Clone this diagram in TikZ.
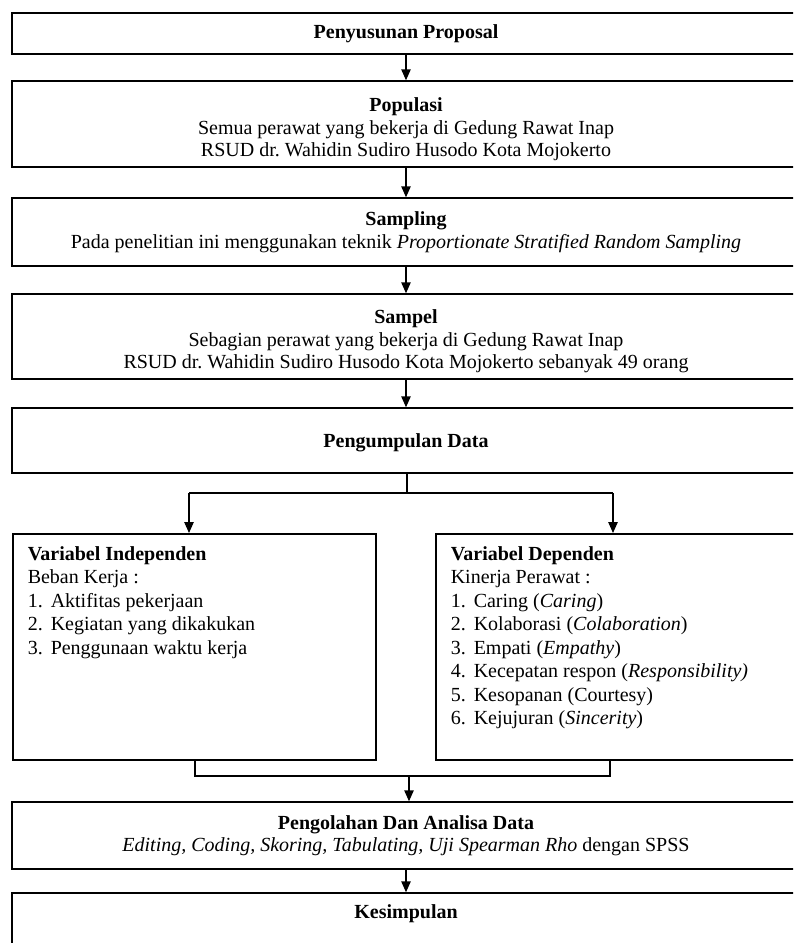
\documentclass[tikz,border=0pt]{standalone}
\usepackage{fontspec}
\setmainfont{Liberation Serif}
\usetikzlibrary{arrows.meta}
\newcommand\itm[1]{\makebox[13.8pt][l]{#1}}
\frenchspacing
\tikzset{
  box/.style={draw, line width=0.9pt, minimum width=472.8pt, inner sep=0pt, align=center,
    font=\fontsize{12}{13.5}\selectfont},
  sidebox/.style={draw, line width=0.9pt, inner sep=0pt, anchor=north west},
  arr/.style={line width=0.75pt, -{Triangle[length=6.5pt,width=5.6pt]}},
  conn/.style={line width=0.75pt}
}
\begin{document}
\begin{tikzpicture}[x=0.6pt,y=-0.6pt]
\useasboundingbox (0,0) rectangle (793,943);
\clip (0,0) rectangle (793,943);
\node[box, minimum height=24.6pt] (b1) at (406,33.5) {\textbf{Penyusunan Proposal}};
\node[box, minimum height=51.6pt] (b2) at (406,124) {\rule{0pt}{15pt}\textbf{Populasi}\\Semua perawat yang bekerja di Gedung Rawat Inap\\RSUD dr. Wahidin Sudiro Husodo Kota Mojokerto};
\node[box, minimum height=40.8pt] (b3) at (406,232) {\textbf{Sampling}\\Pada penelitian ini menggunakan teknik \textit{Proportionate Stratified Random Sampling}};
\node[box, minimum height=51pt] (b4) at (406,336.5) {\rule{0pt}{14pt}\textbf{Sampel}\\Sebagian perawat yang bekerja di Gedung Rawat Inap\\RSUD dr. Wahidin Sudiro Husodo Kota Mojokerto sebanyak 49 orang};
\node[box, minimum height=39pt] (b5) at (406,440.5) {\rule{0pt}{10.5pt}\textbf{Pengumpulan Data}};
\node[sidebox] (indep) at (12,533) {\begin{minipage}[t][135.6pt][t]{217.8pt}\fontsize{12}{14.1}\selectfont\leftskip=9pt\parindent=0pt
\rule{0pt}{16pt}\textbf{Variabel Independen}\\
Beban Kerja :\\
\itm{1.}Aktifitas pekerjaan\\
\itm{2.}Kegiatan yang dikakukan\\
\itm{3.}Penggunaan waktu kerja
\end{minipage}};
\node[sidebox] (dep) at (435,533) {\begin{minipage}[t][135.6pt][t]{240pt}\fontsize{12}{14.1}\selectfont\leftskip=9pt\parindent=0pt
\rule{0pt}{16pt}\textbf{Variabel Dependen}\\
Kinerja Perawat :\\
\itm{1.}Caring (\textit{Caring})\\
\itm{2.}Kolaborasi (\textit{Colaboration})\\
\itm{3.}Empati (\textit{Empathy})\\
\itm{4.}Kecepatan respon (\textit{Responsibility)}\\
\itm{5.}Kesopanan (Courtesy)\\
\itm{6.}Kejujuran (\textit{Sincerity})
\end{minipage}};
\node[box, minimum height=40.2pt] (b6) at (406,835.5) {\textbf{Pengolahan Dan Analisa Data}\\\textit{Editing, Coding, Skoring, Tabulating, Uji Spearman Rho} dengan SPSS};
\node[box, text height=15pt, text depth=25.8pt] (b7) at (406,927) {\textbf{Kesimpulan}};
% connectors
\draw[arr] (b1) -- (b2);
\draw[arr] (b2) -- (b3);
\draw[arr] (b3) -- (b4);
\draw[arr] (b4) -- (b5);
\coordinate (sp) at (407,493);
\coordinate (spL) at (189,493);
\coordinate (spR) at (613,493);
\draw[conn] (b5.south -| sp) -- (sp);
\draw[conn] (spL) -- (spR);
\draw[arr] (spL) -- (spL |- indep.north);
\draw[arr] (spR) -- (spR |- dep.north);
\coordinate (mL) at (195,776);
\coordinate (mR) at (610,776);
\coordinate (mC) at (409,776);
\draw[conn] (mL |- indep.south) -- (mL) -- (mR) -- (mR |- dep.south);
\draw[arr] (mC) -- (mC |- b6.north);
\draw[arr] (b6) -- (b7);
\end{tikzpicture}
\end{document}
